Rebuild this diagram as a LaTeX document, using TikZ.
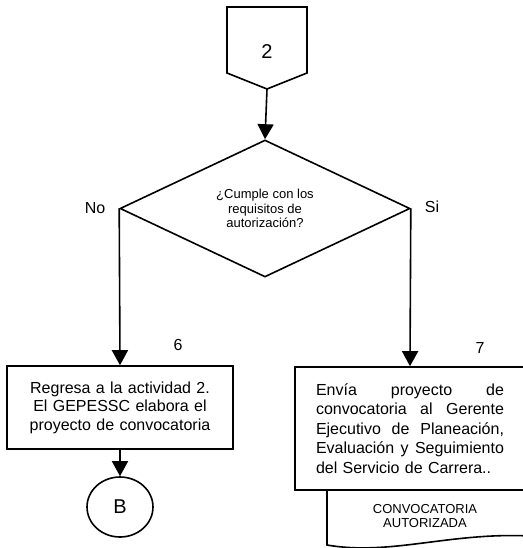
\documentclass[tikz,border=0pt]{standalone}
\usepackage{fontspec}
\setmainfont{Liberation Sans}
\usetikzlibrary{shapes.geometric,arrows.meta}

\begin{document}
\begin{tikzpicture}[x=1pt,y=-1pt,>={Triangle[length=15pt,width=16pt]},line width=1.6pt,
  caja/.style={draw, rectangle, inner ysep=0pt, font=\fontsize{16}{18.5}\selectfont},
  etiqueta/.style={font=\fontsize{16}{18}\selectfont}]
\useasboundingbox (0,0) rectangle (522,548);

% conector fuera de pagina
\draw (227,7) -- (307,7) -- (307,73) -- (267,89) -- (227,73) -- cycle;
\node[font=\fontsize{20}{24}\selectfont] (num) at (267,52) {2};
\coordinate (punta) at (267,89);

\node[draw, diamond, minimum width=290pt, minimum height=137pt, inner sep=0pt, align=center, font=\fontsize{13}{14.5}\selectfont] (decision) at (265,208.5) {¿Cumple con los\\requisitos de\\autorización?};
\node[etiqueta] (no) at (95,208) {No};
\node[etiqueta] (si) at (432,207) {Si};

\node[caja, text width=200pt, inner xsep=13pt, minimum height=83pt, align=center] (regresa) at (120,407.5) {Regresa a la actividad 2.\\El GEPESSC elabora el\\proyecto de convocatoria};
\node[etiqueta] (seis) at (178,345) {6};
\node[draw, ellipse, minimum width=66pt, minimum height=60pt, inner sep=0pt, font=\fontsize{20}{24}\selectfont, below of=regresa, node distance=99.5pt] (b) {B};

\node[caja, text width=188pt, inner xsep=21pt, minimum height=123pt, align=left, font=\fontsize{16}{19.5}\selectfont] (envia) at (410,428.5) {Envía \hfill proyecto \hfill de\\convocatoria \hfill al \hfill Gerente\\Ejecutivo \hfill de \hfill Planeación,\\Evaluación \hfill y \hfill Seguimiento\\del Servicio de Carrera..};
\node[etiqueta] (siete) at (480,348) {7};

% documento
\draw (327,490) -- (327,545) .. controls (390,556) and (450,532) .. (530,536) -- (530,490);
\node[align=center, font=\fontsize{13}{14}\selectfont] (doc) at (425,516) {CONVOCATORIA\\AUTORIZADA};

\draw[->] (punta) -- (decision.north);
\draw[->] (decision.west) -- (regresa.north);
\draw[->] (decision.east) -- (envia.north);
\draw[->] (regresa) -- (b);
\end{tikzpicture}
\end{document}
